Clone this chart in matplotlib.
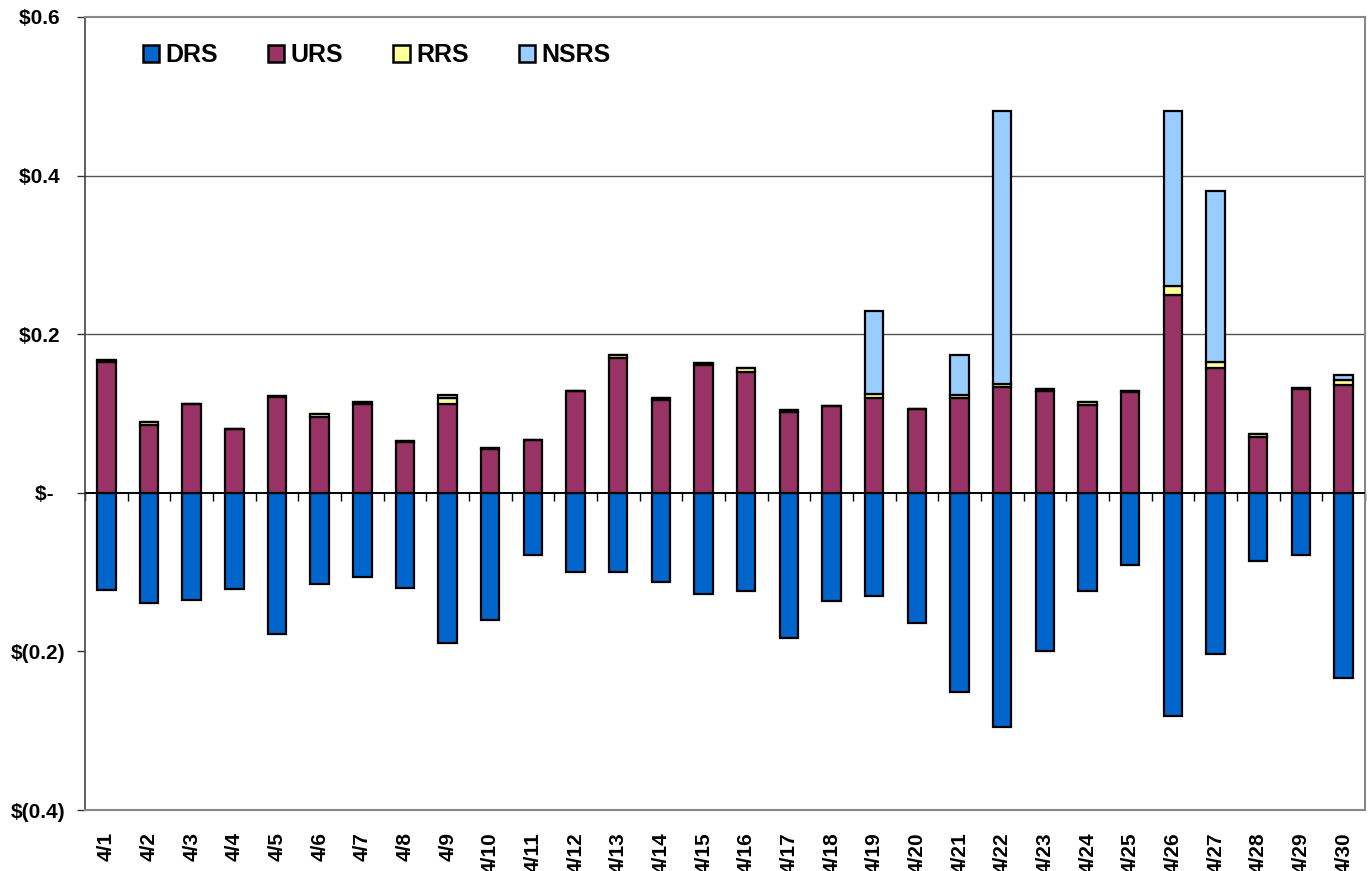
"""Daily ancillary service cost components, April."""

import matplotlib.pyplot as plt
import numpy as np
from matplotlib.patches import Patch

plt.rcParams["font.family"] = ["Liberation Sans", "DejaVu Sans"]
plt.rcParams["font.weight"] = "bold"

days = [f"4/{d}" for d in range(1, 31)]

drs = [-0.122, -0.139, -0.135, -0.121, -0.178, -0.115, -0.106, -0.120, -0.189, -0.161,
       -0.078, -0.100, -0.100, -0.112, -0.127, -0.124, -0.183, -0.136, -0.130, -0.164,
       -0.251, -0.295, -0.200, -0.124, -0.091, -0.281, -0.203, -0.086, -0.078, -0.234]
urs = [0.165, 0.086, 0.112, 0.080, 0.121, 0.096, 0.112, 0.064, 0.112, 0.055,
       0.067, 0.128, 0.170, 0.117, 0.161, 0.152, 0.102, 0.110, 0.119, 0.106,
       0.120, 0.134, 0.128, 0.111, 0.127, 0.250, 0.157, 0.071, 0.131, 0.136]
rrs = [0.002, 0.003, 0.000, 0.000, 0.001, 0.003, 0.002, 0.001, 0.008, 0.002,
       0.000, 0.000, 0.004, 0.003, 0.003, 0.006, 0.002, 0.000, 0.005, 0.000,
       0.003, 0.003, 0.003, 0.003, 0.002, 0.011, 0.008, 0.003, 0.001, 0.006]
nsrs = [0.000, 0.000, 0.000, 0.000, 0.000, 0.000, 0.000, 0.000, 0.003, 0.000,
        0.000, 0.000, 0.000, 0.000, 0.000, 0.000, 0.000, 0.000, 0.105, 0.000,
        0.051, 0.345, 0.000, 0.000, 0.000, 0.220, 0.215, 0.000, 0.000, 0.007]

series = [("DRS", "#0066CC"), ("URS", "#993366"), ("RRS", "#FFFF99"), ("NSRS", "#99CCFF")]

yticks = [-0.4, -0.2, 0.0, 0.2, 0.4, 0.6]
ylabels = ["$(0.4)", "$(0.2)", "$-  ", "$0.2 ", "$0.4 ", "$0.6 "]

fig = plt.figure(figsize=(13.71, 8.71), dpi=100)
ax = fig.add_axes([0.062, 0.070, 0.9336, 0.9105])

x = np.arange(len(days))
width = 0.43
bar_kw = dict(width=width, edgecolor="black", linewidth=1.6, zorder=3)

ax.bar(x, drs, color=series[0][1], **bar_kw)
ax.bar(x, urs, color=series[1][1], **bar_kw)
base = np.array(urs)
ax.bar(x, rrs, bottom=base, color=series[2][1], **bar_kw)
base = base + np.array(rrs)
ax.bar(x, nsrs, bottom=base, color=series[3][1], **bar_kw)

ax.set_xlim(-0.5, len(days) - 0.5)
ax.set_ylim(-0.4, 0.6)

ax.set_yticks(yticks)
ax.set_yticklabels(ylabels, fontsize=15, fontweight="bold")
ax.tick_params(axis="y", direction="out", length=6, width=1, pad=8, color="#333333")

ax.set_xticks(x)
ax.set_xticklabels(days, rotation=90, fontsize=15, fontweight="bold")
ax.tick_params(axis="x", length=0, pad=16)

for y in (0.2, 0.4):
    ax.axhline(y, color="#555555", linewidth=1.0, zorder=1)

for side in ("top", "right", "bottom"):
    ax.spines[side].set_color("#888888")
    ax.spines[side].set_linewidth(1.5)
ax.spines["left"].set_color("#444444")
ax.spines["left"].set_linewidth(1.2)

# category axis crossing at zero, with ticks between days
zero_axis = ax.secondary_xaxis(0.4)
zero_axis.set_xticks(np.arange(-0.5, len(days), 1.0))
zero_axis.tick_params(axis="x", direction="out", length=6, width=1, labelbottom=False)
zero_axis.spines["bottom"].set_color("black")
zero_axis.spines["bottom"].set_linewidth(1.2)
ax.axhline(0, color="black", linewidth=1.2, zorder=4)

handles = [Patch(facecolor=c, edgecolor="black", linewidth=1.8, label=n) for n, c in series]
ax.legend(handles=handles, loc="center left", bbox_to_anchor=(0.045, 0.952), ncol=4,
          frameon=False, prop={"size": 18, "weight": "bold"}, borderpad=0, borderaxespad=0,
          handlelength=0.66, handleheight=0.7, handletextpad=0.25, columnspacing=2.0)

fig.savefig("out.png", dpi=100)
